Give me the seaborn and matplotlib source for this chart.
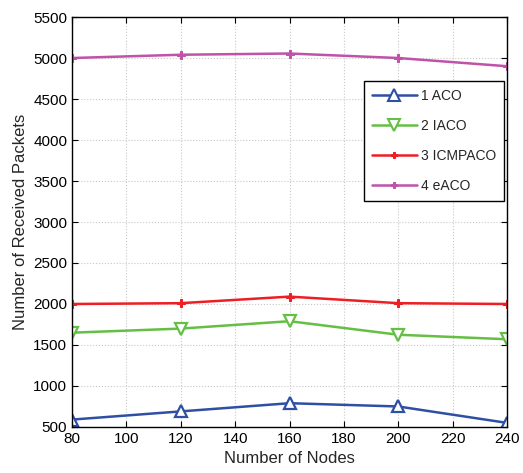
import matplotlib
matplotlib.use("Agg")
import matplotlib.pyplot as plt
import seaborn as sns
import pandas as pd

nodes = [80, 120, 160, 200, 240]
aco = [590, 690, 790, 750, 550]
iaco = [1650, 1700, 1790, 1625, 1570]
icmpaco = [2000, 2010, 2090, 2010, 2000]
eaco = [5000, 5040, 5055, 5000, 4900]
series_names = ["1 ACO", "2 IACO", "3 ICMPACO", "4 eACO"]

rows = []
for name, vals in zip(series_names, [aco, iaco, icmpaco, eaco]):
    for x, v in zip(nodes, vals):
        rows.append({"Nodes": x, "Packets": v, "Series": name})
df = pd.DataFrame(rows)

sns.set_style("white")
plt.rcParams['font.family'] = ['Liberation Sans', 'DejaVu Sans']

palette = {"1 ACO": "#2e4fa3", "2 IACO": "#66bf45", "3 ICMPACO": "#ee1f24", "4 eACO": "#c052a8"}
markers = {"1 ACO": "^", "2 IACO": "v", "3 ICMPACO": "P", "4 eACO": "P"}

fig = plt.figure(figsize=(5.23, 4.73), dpi=100)
ax = fig.add_axes([0.1377, 0.0973, 0.8317, 0.8667])

sns.lineplot(data=df, x="Nodes", y="Packets", hue="Series", style="Series",
             palette=palette, markers=markers, dashes=False, linewidth=1.8,
             markersize=9, ax=ax, legend=True)

for line in ax.lines:
    c = line.get_color()
    if line.get_marker() in ("^", "v"):
        line.set_markerfacecolor("white")
        line.set_markeredgecolor(c)
        line.set_markeredgewidth(1.6)
        line.set_markersize(9)
    else:
        line.set_markerfacecolor(c)
        line.set_markeredgecolor(c)
        line.set_markersize(6)

ax.set_xlim(80, 240)
ax.set_ylim(500, 5500)
ax.set_xticks(range(80, 241, 20))
ax.set_yticks(range(500, 5501, 500))
ax.grid(True, linestyle=":", color="#c8c8c8", linewidth=0.8)
ax.tick_params(direction="in", length=4, labelsize=11, top=True, right=True,
               bottom=True, left=True, colors="black")
for sp in ax.spines.values():
    sp.set_color("black")
    sp.set_linewidth(1.0)
ax.set_xlabel("Number of Nodes", fontsize=12)
ax.set_ylabel("Number of Received Packets", fontsize=12)

handles, labels = ax.get_legend_handles_labels()
for h in handles:
    c = h.get_color()
    if h.get_marker() in ("^", "v"):
        h.set_markerfacecolor("white")
        h.set_markeredgecolor(c)
        h.set_markeredgewidth(1.5)
        h.set_markersize(8)
    else:
        h.set_markersize(5)
leg = ax.legend(handles, labels, loc="upper left", bbox_to_anchor=(0.671, 0.845),
                frameon=True, fancybox=False, edgecolor="black", fontsize=10,
                handlelength=3.2, handletextpad=0.3, labelspacing=1.15,
                borderpad=0.6, borderaxespad=0, framealpha=1)
leg.get_frame().set_linewidth(1.0)

fig.savefig("out.png", dpi=100)
